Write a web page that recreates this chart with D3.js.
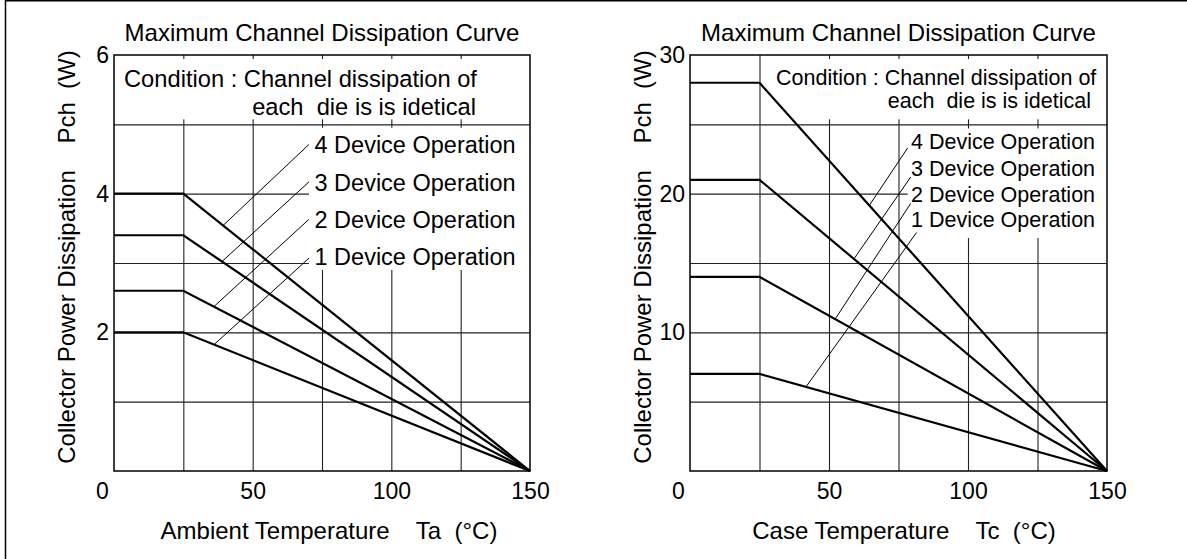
<!DOCTYPE html>
<html>
<head>
<meta charset="utf-8">
<script src="https://cdn.jsdelivr.net/npm/d3@7"></script>
<style>
  body { margin: 0; background: #fff; }
  svg text { font-family: "Liberation Sans", Arial, Helvetica, sans-serif; fill: #000; }
</style>
</head>
<body>
<svg id="chart" width="1187" height="559"></svg>
<script>
// ---- data ----
const tempTicks = [0, 50, 100, 150];
const tempGrid = [25, 50, 75, 100, 125];
const deviceLabels = ['1 Device Operation', '2 Device Operation', '3 Device Operation', '4 Device Operation'];

// left: Pch vs ambient temperature Ta
const ambientCurves = [
  [[0, 2.0], [25, 2.0], [150, 0]],
  [[0, 2.6], [25, 2.6], [150, 0]],
  [[0, 3.4], [25, 3.4], [150, 0]],
  [[0, 4.0], [25, 4.0], [150, 0]]
];
const ambientTicks = [2, 4, 6];
const ambientGrid = [1, 2, 3, 4, 5];
// leader line: [label end, curve end] as [T, P]
const ambientLeaders = [
  [[70.3, 3.07], [36.0, 1.82]],
  [[70.3, 3.63], [36.0, 2.37]],
  [[70.3, 4.17], [38.9, 3.02]],
  [[70.3, 4.71], [39.3, 3.54]]
];
const ambientLabelPos = [[72.3, 3.09], [72.3, 3.62], [72.3, 4.16], [72.3, 4.70]];

// right: Pch vs case temperature Tc
const caseCurves = [
  [[0, 7], [25, 7], [150, 0]],
  [[0, 14], [25, 14], [150, 0]],
  [[0, 21], [25, 21], [150, 0]],
  [[0, 28], [25, 28], [150, 0]]
];
const caseTicks = [10, 20, 30];
const caseGrid = [5, 10, 15, 20, 25];
const caseLeaders = [
  [[81.5, 17.2], [41.7, 6.06]],
  [[79.4, 19.3], [52.2, 10.95]],
  [[79.4, 21.2], [59.0, 15.3]],
  [[78.3, 23.3], [64.5, 19.15]]
];
const caseLabelPos = [[79.5, 18.1], [79.5, 19.9], [79.5, 21.8], [79.5, 23.7]];

const svg = d3.select('#chart');

// outer frame (only left and top edges are inside the picture)
svg.append('path')
  .attr('d', 'M5.5,559 V0.75 H1187')
  .attr('fill', 'none')
  .attr('stroke', '#000')
  .attr('stroke-width', 1.5);

const charts = [
  {
    left: 114, right: 530, top: 55, bottom: 471, yMax: 6,
    curves: ambientCurves, yTicks: ambientTicks, yGrid: ambientGrid,
    leaders: ambientLeaders, labelPos: ambientLabelPos, labelSize: 23.5,
    condBox: [0, 150], condX: 124, condX2: 476, condY: [87, 115], condSize: 23.7,
    labelBox: [70.3, 150, 4.95, 2.9],
    xTitle: 'Ambient Temperature    Ta  (\u00B0C)', xTitleX: 329, yTitleX: 66
  },
  {
    left: 690, right: 1107, top: 55, bottom: 471, yMax: 30,
    curves: caseCurves, yTicks: caseTicks, yGrid: caseGrid,
    leaders: caseLeaders, labelPos: caseLabelPos, labelSize: 21.5,
    condBox: [26.5, 150], condX: 776, condX2: 1091, condY: [85, 108], condSize: 21.5,
    labelBox: [78.3, 150, 24.7, 16.8],
    xTitle: 'Case Temperature    Tc  (\u00B0C)', xTitleX: 904, yTitleX: 642
  }
];

charts.forEach(c => drawChart(c));

function drawChart(c) {
  const x = d3.scaleLinear().domain([0, 150]).range([c.left, c.right]);
  const y = d3.scaleLinear().domain([0, c.yMax]).range([c.bottom, c.top]);
  const g = svg.append('g');
  const h = c.bottom - c.top;
  const w = c.right - c.left;

  // grid
  g.append('g')
    .attr('transform', `translate(0,${c.bottom})`)
    .call(d3.axisBottom(x).tickValues(tempGrid).tickSize(-h).tickFormat(''))
    .call(s => s.select('.domain').remove())
    .call(s => s.selectAll('line').attr('stroke', '#222').attr('stroke-width', 1.1));
  g.append('g')
    .attr('transform', `translate(${c.left},0)`)
    .call(d3.axisLeft(y).tickValues(c.yGrid).tickSize(-w).tickFormat(''))
    .call(s => s.select('.domain').remove())
    .call(s => s.selectAll('line').attr('stroke', '#222').attr('stroke-width', 1.1));

  // white panel behind the condition note (grid shows only as short ticks)
  const top5 = y(c.yGrid[c.yGrid.length - 1]);
  g.append('rect')
    .attr('x', x(c.condBox[0]) + 1)
    .attr('y', c.top + 4)
    .attr('width', x(c.condBox[1]) - x(c.condBox[0]) - 2)
    .attr('height', top5 - c.top - 9)
    .attr('fill', '#fff');

  // white panel behind the device labels
  g.append('rect')
    .attr('x', x(c.labelBox[0]))
    .attr('y', y(c.labelBox[2]))
    .attr('width', x(c.labelBox[1]) - x(c.labelBox[0]))
    .attr('height', y(c.labelBox[3]) - y(c.labelBox[2]))
    .attr('fill', '#fff');

  // plot frame
  g.append('rect')
    .attr('x', c.left).attr('y', c.top)
    .attr('width', w).attr('height', h)
    .attr('fill', 'none')
    .attr('stroke', '#000')
    .attr('stroke-width', 1.5);

  // derating curves
  const line = d3.line().x(d => x(d[0])).y(d => y(d[1]));
  g.selectAll('path.curve')
    .data(c.curves)
    .join('path')
    .attr('class', 'curve')
    .attr('d', line)
    .attr('fill', 'none')
    .attr('stroke', '#000')
    .attr('stroke-width', 2.2);

  // leader lines
  g.selectAll('path.leader')
    .data(c.leaders)
    .join('path')
    .attr('class', 'leader')
    .attr('d', line)
    .attr('fill', 'none')
    .attr('stroke', '#000')
    .attr('stroke-width', 1);

  // device labels
  g.selectAll('text.dev')
    .data(c.labelPos)
    .join('text')
    .attr('class', 'dev')
    .attr('x', d => x(d[0]))
    .attr('y', d => y(d[1]))
    .attr('dominant-baseline', 'central')
    .attr('font-size', c.labelSize)
    .text((d, i) => deviceLabels[i]);

  // condition note
  g.append('text')
    .attr('x', c.condX).attr('y', c.condY[0])
    .attr('font-size', c.condSize)
    .text('Condition : Channel dissipation of');
  g.append('text')
    .attr('x', c.condX2).attr('y', c.condY[1])
    .attr('text-anchor', 'end')
    .attr('font-size', c.condSize)
    .style('white-space', 'pre')
    .text('each  die is is idetical');

  // tick labels
  g.append('g')
    .attr('transform', `translate(0,${c.bottom})`)
    .call(d3.axisBottom(x).tickValues(tempTicks).tickSize(0).tickPadding(12))
    .call(s => s.select('.domain').remove())
    .call(s => s.selectAll('text').attr('font-size', 23).attr('font-family', null))
    .call(s => s.selectAll('.tick').filter(d => d === 0).select('text').attr('x', -12));
  g.append('g')
    .attr('transform', `translate(${c.left},0)`)
    .call(d3.axisLeft(y).tickValues(c.yTicks).tickSize(0).tickPadding(5).tickFormat(d3.format('d')))
    .call(s => s.select('.domain').remove())
    .call(s => s.selectAll('text').attr('font-size', 23).attr('font-family', null));

  // titles
  g.append('text')
    .attr('x', (c.left + c.right) / 2).attr('y', 41)
    .attr('text-anchor', 'middle')
    .attr('font-size', 24)
    .text('Maximum Channel Dissipation Curve');
  g.append('text')
    .attr('x', c.xTitleX).attr('y', 539)
    .attr('text-anchor', 'middle')
    .attr('font-size', 24)
    .style('white-space', 'pre')
    .text(c.xTitle);
  g.append('text')
    .attr('transform', `translate(${c.yTitleX},257) rotate(-90)`)
    .attr('text-anchor', 'middle')
    .attr('dominant-baseline', 'central')
    .attr('font-size', 24)
    .style('white-space', 'pre')
    .text('Collector Power Dissipation    Pch  (W)');
}
</script>
</body>
</html>
